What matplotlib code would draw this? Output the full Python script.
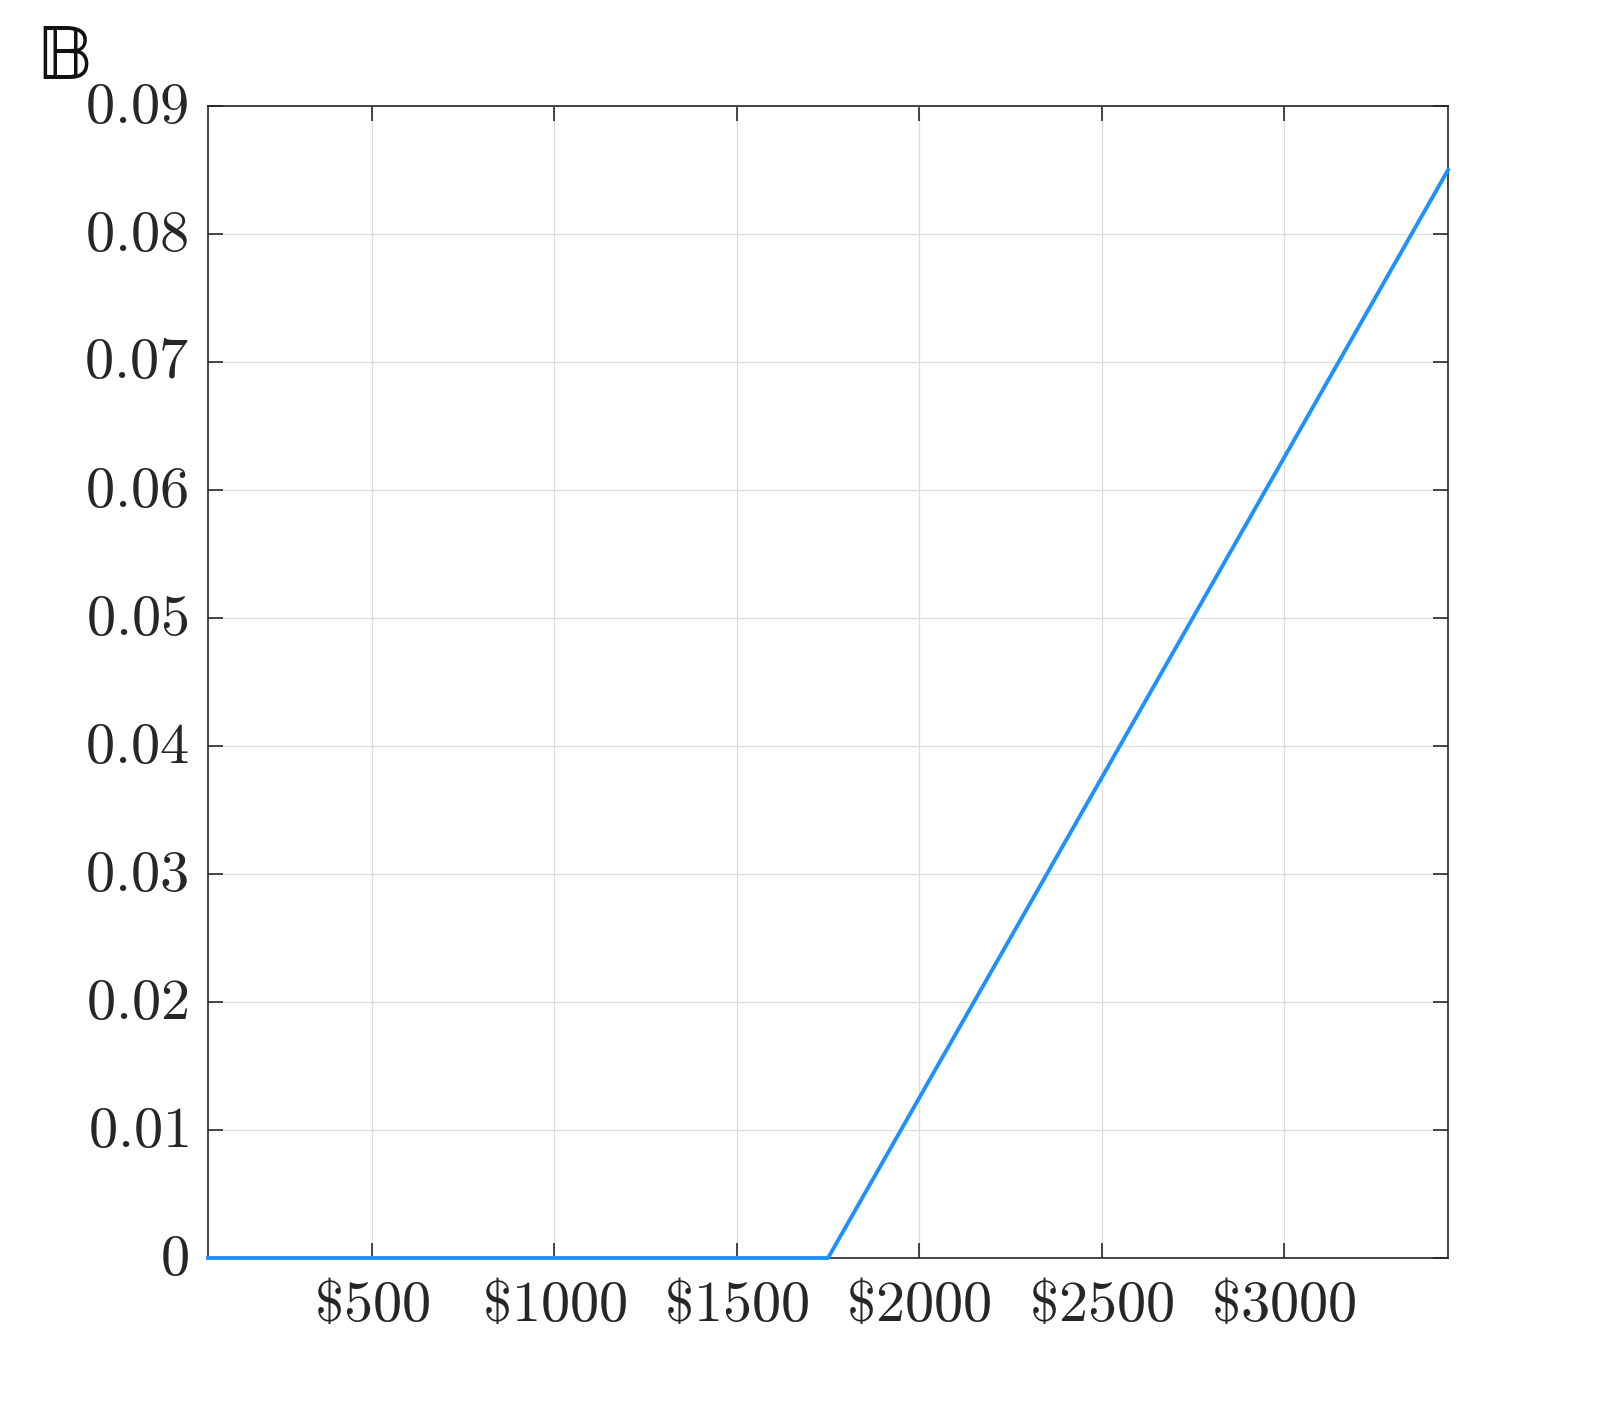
import matplotlib
matplotlib.use("Agg")
import matplotlib.pyplot as plt
import matplotlib.transforms as mtransforms

# piecewise-linear curve
xs = [50, 1750, 3450]
ys = [0.0, 0.0, 0.085]
xticks = [500, 1000, 1500, 2000, 2500, 3000]
yticks = [0, 0.01, 0.02, 0.03, 0.04, 0.05, 0.06, 0.07, 0.08, 0.09]

plt.rcParams['mathtext.fontset'] = 'cm'

fig = plt.figure(figsize=(16, 14.14), dpi=100)
ax = fig.add_axes([208 / 1600, 1 - 1258 / 1414, (1448 - 208) / 1600, (1258 - 106) / 1414])

ax.plot(xs, ys, color='#1E90FF', linewidth=2.8, clip_on=False, zorder=3)

ax.set_xlim(50, 3450)
ax.set_ylim(0, 0.09)
ax.set_xticks(xticks)
ax.set_xticklabels([r'$\$%d$' % v for v in xticks])
ax.set_yticks(yticks)
ax.set_yticklabels(['$0$'] + [r'$%.2f$' % v for v in yticks[1:]])

ax.grid(True, color='#dcdcdc', linewidth=0.9)
ax.set_axisbelow(True)
for s in ax.spines.values():
    s.set_color('#262626')
    s.set_linewidth(1.2)
ax.tick_params(direction='in', length=11, width=1.2, color='#262626',
               top=True, right=True, labelsize=42, labelcolor='#262626')
ax.tick_params(axis='x', pad=13)
ax.tick_params(axis='y', pad=14)

# nudge y labels up a little (cm digits sit low)
shift = mtransforms.ScaledTranslation(0, 6 / 100, fig.dpi_scale_trans)
for lbl in ax.get_yticklabels():
    lbl.set_transform(lbl.get_transform() + shift)

# upright double-struck B in the corner
fig.text(37 / 1600, 1 - 79 / 1414, '\U0001D539', fontsize=58, color='#111111',
         family=['STIXGeneral', 'DejaVu Serif', 'DejaVu Sans'])

fig.savefig('out.png', dpi=100)
